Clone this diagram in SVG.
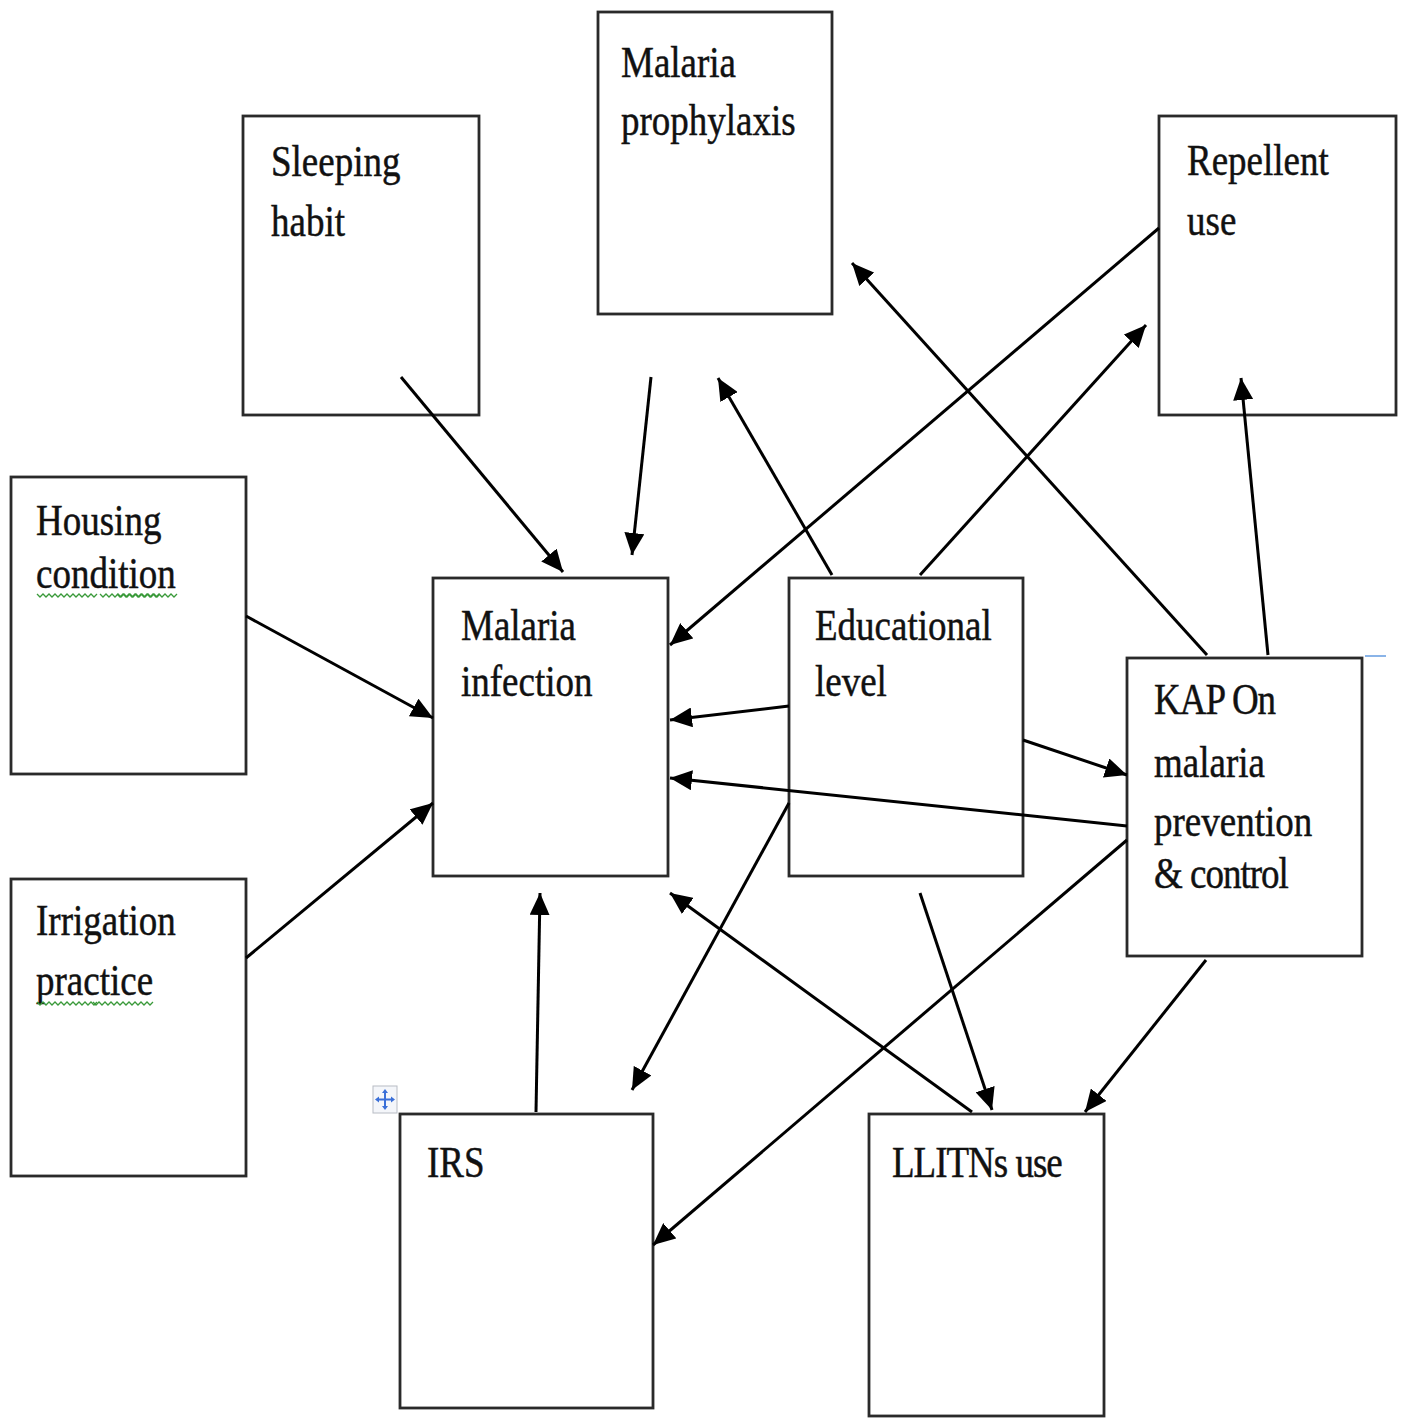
<svg xmlns="http://www.w3.org/2000/svg" width="1403" height="1418" viewBox="0 0 1403 1418">
<style>
.box{fill:none;stroke:#2a2a2a;stroke-width:2.8}
.lbl{font-family:"Liberation Serif","Times New Roman",serif;font-size:37px;fill:#111;stroke:#111;stroke-width:0.4}
.cn{stroke:#000;stroke-width:3;fill:none;marker-end:url(#ah)}
.wavy{fill:none;stroke:#3a9a3a;stroke-width:1.3}
</style>
<defs>
<marker id="ah" markerUnits="userSpaceOnUse" markerWidth="24" markerHeight="20" refX="22" refY="10" orient="auto">
<path d="M0,0 L22,10 L0,20 Z" fill="#000"/>
</marker>
<path id="wv" d="M0,0 l3,3 l3,-3 l3,3 l3,-3 l3,3 l3,-3 l3,3 l3,-3 l3,3 l3,-3 l3,3 l3,-3 l3,3 l3,-3 l3,3 l3,-3 l3,3 l3,-3 l3,3 l3,-3"/>
</defs>
<rect width="1403" height="1418" fill="#fff"/>

<g id="n-prophylaxis">
<rect class="box" x="598" y="12" width="234" height="302"/>
<text class="lbl" transform="translate(621,77) scale(1,1.2)">Malaria</text>
<text class="lbl" transform="translate(621,135) scale(1,1.2)">prophylaxis</text>
</g>
<g id="n-sleeping">
<rect class="box" x="243" y="116" width="236" height="299"/>
<text class="lbl" transform="translate(271,176) scale(1,1.2)">Sleeping</text>
<text class="lbl" transform="translate(271,236) scale(1,1.2)">habit</text>
</g>
<g id="n-repellent">
<rect class="box" x="1159" y="116" width="237" height="299"/>
<text class="lbl" transform="translate(1187,175) scale(1,1.2)">Repellent</text>
<text class="lbl" transform="translate(1187,235) scale(1,1.2)">use</text>
</g>
<g id="n-housing">
<rect class="box" x="11" y="477" width="235" height="297"/>
<text class="lbl" transform="translate(36,535) scale(1,1.2)">Housing</text>
<text class="lbl" transform="translate(36,588) scale(1,1.2)">condition</text>
<use href="#wv" x="37" y="594" class="wavy"/>
<use href="#wv" x="100" y="594" class="wavy"/>
<use href="#wv" x="117" y="594" class="wavy"/>
</g>
<g id="n-infection">
<rect class="box" x="433" y="578" width="235" height="298"/>
<text class="lbl" transform="translate(461,640) scale(1,1.2)">Malaria</text>
<text class="lbl" transform="translate(461,696) scale(1,1.2)">infection</text>
</g>
<g id="n-education">
<rect class="box" x="789" y="578" width="234" height="298"/>
<text class="lbl" transform="translate(815,640) scale(1,1.2)">Educational</text>
<text class="lbl" transform="translate(815,696) scale(1,1.2)">level</text>
</g>
<g id="n-kap">
<rect class="box" x="1127" y="658" width="235" height="298"/>
<line x1="1365" y1="656" x2="1386" y2="656" stroke="#8ab4e8" stroke-width="2"/>
<text class="lbl" transform="translate(1154,714) scale(1,1.2)" letter-spacing="-1">KAP On</text>
<text class="lbl" transform="translate(1154,777) scale(1,1.2)">malaria</text>
<text class="lbl" transform="translate(1154,836) scale(1,1.2)">prevention</text>
<text class="lbl" transform="translate(1154,888) scale(1,1.2)" letter-spacing="-1">&amp; control</text>
</g>
<g id="n-irrigation">
<rect class="box" x="11" y="879" width="235" height="297"/>
<text class="lbl" transform="translate(36,935) scale(1,1.2)">Irrigation</text>
<text class="lbl" transform="translate(36,995) scale(1,1.2)">practice</text>
<use href="#wv" x="37" y="1002" class="wavy"/>
<use href="#wv" x="93" y="1002" class="wavy"/>
</g>
<g id="n-irs">
<rect class="box" x="400" y="1114" width="253" height="294"/>
<text class="lbl" transform="translate(427,1177) scale(1,1.2)">IRS</text>
<g id="anchor">
<rect x="373" y="1086" width="24" height="27" fill="#f4f6fa" stroke="#b8bcc4" stroke-width="1"/>
<path d="M385,1091 V1108 M377,1099.5 H393" stroke="#3a6fd8" stroke-width="2"/>
<path d="M385,1089 l-3,4 h6 Z M385,1110 l-3,-4 h6 Z M375,1099.5 l4,-3 v6 Z M395,1099.5 l-4,-3 v6 Z" fill="#3a6fd8"/>
</g>
</g>
<g id="n-llitns">
<rect class="box" x="869" y="1114" width="235" height="302"/>
<text class="lbl" transform="translate(892,1177) scale(1,1.2)" letter-spacing="-1">LLITNs use</text>
</g>

<g id="connectors">
<line class="cn" x1="401" y1="377" x2="563" y2="572"/>
<line class="cn" x1="651" y1="377" x2="632" y2="555"/>
<line class="cn" x1="832" y1="575" x2="718" y2="378"/>
<line class="cn" x1="1159" y1="228" x2="670" y2="645"/>
<line class="cn" x1="920" y1="575" x2="1146" y2="325"/>
<line class="cn" x1="1207" y1="655" x2="852" y2="263"/>
<line class="cn" x1="1268" y1="655" x2="1241" y2="378"/>
<line class="cn" x1="246" y1="616" x2="433" y2="718"/>
<line class="cn" x1="246" y1="958" x2="433" y2="803"/>
<line class="cn" x1="789" y1="706" x2="670" y2="720"/>
<line class="cn" x1="1127" y1="826" x2="670" y2="778"/>
<line class="cn" x1="1023" y1="740" x2="1127" y2="775"/>
<line class="cn" x1="789" y1="803" x2="632" y2="1090"/>
<line class="cn" x1="1127" y1="840" x2="653" y2="1245"/>
<line class="cn" x1="972" y1="1112" x2="670" y2="893"/>
<line class="cn" x1="920" y1="893" x2="992" y2="1110"/>
<line class="cn" x1="1206" y1="960" x2="1085" y2="1112"/>
<line class="cn" x1="536" y1="1112" x2="540" y2="893"/>
</g>
</svg>
